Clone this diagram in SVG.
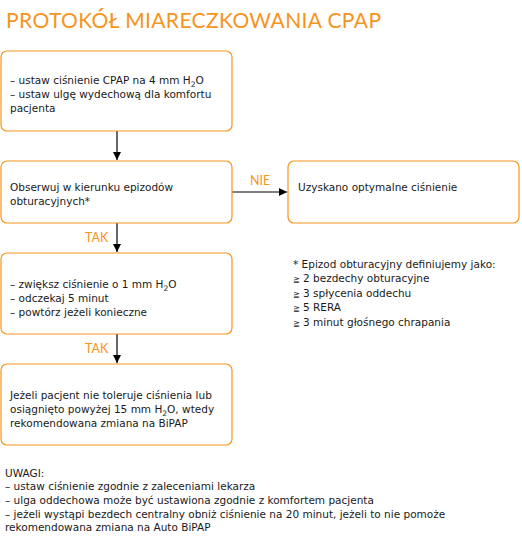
<svg xmlns="http://www.w3.org/2000/svg" width="522" height="540" viewBox="0 0 522 540">
<defs>
<style>
.box{fill:#fff;stroke:#F7941D;stroke-width:1.2}
.t{font-family:"DejaVu Sans","Liberation Sans",sans-serif;font-size:10.5px;fill:#1a1a1a}
.title{font-family:Lato,"Liberation Sans",sans-serif;font-size:21px;fill:#F7941D}
.lbl{font-family:Lato,"Liberation Sans",sans-serif;font-size:12.5px;fill:#F7941D}
.sub{font-size:7.5px}
.ge{font-size:8px}
.c{stroke:#000;stroke-width:1.2;fill:none}
</style>
<marker id="ah" markerWidth="8" markerHeight="8" refX="8" refY="4" orient="auto" markerUnits="userSpaceOnUse">
<path d="M0,0 L8,4 L0,8 Z" fill="#000"/>
</marker>
</defs>
<rect width="522" height="540" fill="#fff"/>
<text class="title" x="6" y="28" textLength="375" lengthAdjust="spacing">PROTOKÓŁ MIARECZKOWANIA CPAP</text>
<g id="connectors">
<line class="c" x1="117" y1="131" x2="117" y2="160" marker-end="url(#ah)"/>
<line class="c" x1="117" y1="223" x2="117" y2="252" marker-end="url(#ah)"/>
<line class="c" x1="117" y1="334" x2="117" y2="363" marker-end="url(#ah)"/>
<line class="c" x1="232" y1="192" x2="287" y2="192" marker-end="url(#ah)"/>
<text class="lbl" x="250" y="185">NIE</text>
<text class="lbl" x="85" y="242">TAK</text>
<text class="lbl" x="85" y="353">TAK</text>
</g>
<g id="node1">
<rect class="box" x="1" y="51" width="231" height="80" rx="6"/>
<text class="t" x="10" y="84">– ustaw ciśnienie CPAP na 4 mm H<tspan class="sub" dy="3">2</tspan><tspan dy="-3">O</tspan></text>
<text class="t" x="10" y="98">– ustaw ulgę wydechową dla komfortu</text>
<text class="t" x="10" y="112">pacjenta</text>
</g>
<g id="node2">
<rect class="box" x="1" y="161" width="231" height="62" rx="6"/>
<text class="t" x="10" y="191">Obserwuj w kierunku epizodów</text>
<text class="t" x="10" y="205">obturacyjnych*</text>
</g>
<g id="node3">
<rect class="box" x="288" y="161" width="231" height="62" rx="6"/>
<text class="t" x="298" y="191">Uzyskano optymalne ciśnienie</text>
</g>
<g id="node4">
<rect class="box" x="1" y="253" width="231" height="81" rx="6"/>
<text class="t" x="10" y="288">– zwiększ ciśnienie o 1 mm H<tspan class="sub" dy="3">2</tspan><tspan dy="-3">O</tspan></text>
<text class="t" x="10" y="302">– odczekaj 5 minut</text>
<text class="t" x="10" y="316">– powtórz jeżeli konieczne</text>
</g>
<g id="node5">
<rect class="box" x="1" y="364" width="231" height="81" rx="6"/>
<text class="t" x="10" y="399">Jeżeli pacjent nie toleruje ciśnienia lub</text>
<text class="t" x="10" y="413">osiągnięto powyżej 15 mm H<tspan class="sub" dy="3">2</tspan><tspan dy="-3">O, wtedy</tspan></text>
<text class="t" x="10" y="427">rekomendowana zmiana na BiPAP</text>
</g>
<g id="footnote">
<text class="t" x="293" y="268">* Epizod obturacyjny definiujemy jako:</text>
<text class="t" x="293" y="282"><tspan class="ge">≧</tspan> 2 bezdechy obturacyjne</text>
<text class="t" x="293" y="297"><tspan class="ge">≧</tspan> 3 spłycenia oddechu</text>
<text class="t" x="293" y="311"><tspan class="ge">≧</tspan> 5 RERA</text>
<text class="t" x="293" y="326"><tspan class="ge">≧</tspan> 3 minut głośnego chrapania</text>
</g>
<g id="notes">
<text class="t" x="5" y="477">UWAGI:</text>
<text class="t" x="5" y="490">– ustaw ciśnienie zgodnie z zaleceniami lekarza</text>
<text class="t" x="5" y="504">– ulga oddechowa może być ustawiona zgodnie z komfortem pacjenta</text>
<text class="t" x="5" y="518">– jeżeli wystąpi bezdech centralny obniż ciśnienie na 20 minut, jeżeli to nie pomoże</text>
<text class="t" x="5" y="531">rekomendowana zmiana na Auto BiPAP</text>
</g>
</svg>
